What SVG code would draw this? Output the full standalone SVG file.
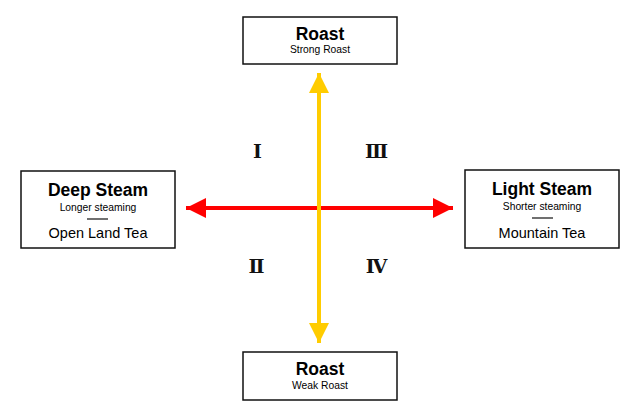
<svg xmlns="http://www.w3.org/2000/svg" width="640" height="420" viewBox="0 0 640 420">
<style>
.box{fill:#fff;stroke:#111;stroke-width:1.5}
.t{font-family:"Liberation Sans",Arial,sans-serif;fill:#000;text-anchor:middle}
.title{font-size:17.5px;font-weight:bold}
.sub{font-size:10.3px}
.mid{font-size:14.5px}
.num{font-family:"DejaVu Serif","Liberation Serif",serif;font-weight:bold;font-size:19px;text-anchor:middle;fill:#111;letter-spacing:-1px}
</style>
<defs>
<marker id="ar" viewBox="0 0 10 10" refX="10" refY="5" markerWidth="5" markerHeight="5" orient="auto-start-reverse" markerUnits="strokeWidth"><path d="M0,0L10,5L0,10Z" fill="#f00"/></marker>
<marker id="ay" viewBox="0 0 10 10" refX="10" refY="5" markerWidth="5" markerHeight="5" orient="auto-start-reverse" markerUnits="strokeWidth"><path d="M0,0L10,5L0,10Z" fill="#ffcc00"/></marker>
</defs>
<rect width="640" height="420" fill="#fff"/>
<g id="connectors">
<line x1="186" y1="208" x2="453" y2="208" stroke="#f00" stroke-width="4" marker-start="url(#ar)" marker-end="url(#ar)"/>
<line x1="319" y1="73" x2="319" y2="343" stroke="#ffcc00" stroke-width="4" marker-start="url(#ay)" marker-end="url(#ay)"/>
</g>
<g id="top">
<rect class="box" x="243" y="17" width="154" height="47"/>
<text class="t title" x="320" y="40">Roast</text>
<text class="t sub" x="320" y="53">Strong Roast</text>
</g>
<g id="bottom">
<rect class="box" x="243" y="352" width="154" height="48"/>
<text class="t title" x="320" y="375">Roast</text>
<text class="t sub" x="320" y="389">Weak Roast</text>
</g>
<g id="left">
<rect class="box" x="21" y="171" width="154" height="77"/>
<text class="t title" x="98" y="196">Deep Steam</text>
<text class="t sub" x="98" y="211">Longer steaming</text>
<line x1="87" y1="219" x2="108" y2="219" stroke="#111" stroke-width="1.2"/>
<text class="t mid" x="98" y="238">Open Land Tea</text>
</g>
<g id="right">
<rect class="box" x="465" y="170" width="154" height="78"/>
<text class="t title" x="542" y="195">Light Steam</text>
<text class="t sub" x="542" y="210">Shorter steaming</text>
<line x1="532" y1="218" x2="553" y2="218" stroke="#111" stroke-width="1.2"/>
<text class="t mid" x="542" y="238">Mountain Tea</text>
</g>
<g id="quadrants">
<text class="num" x="257" y="158">Ⅰ</text>
<text class="num" x="376" y="158">Ⅲ</text>
<text class="num" x="256" y="273">Ⅱ</text>
<text class="num" x="376" y="273">Ⅳ</text>
</g>
</svg>
